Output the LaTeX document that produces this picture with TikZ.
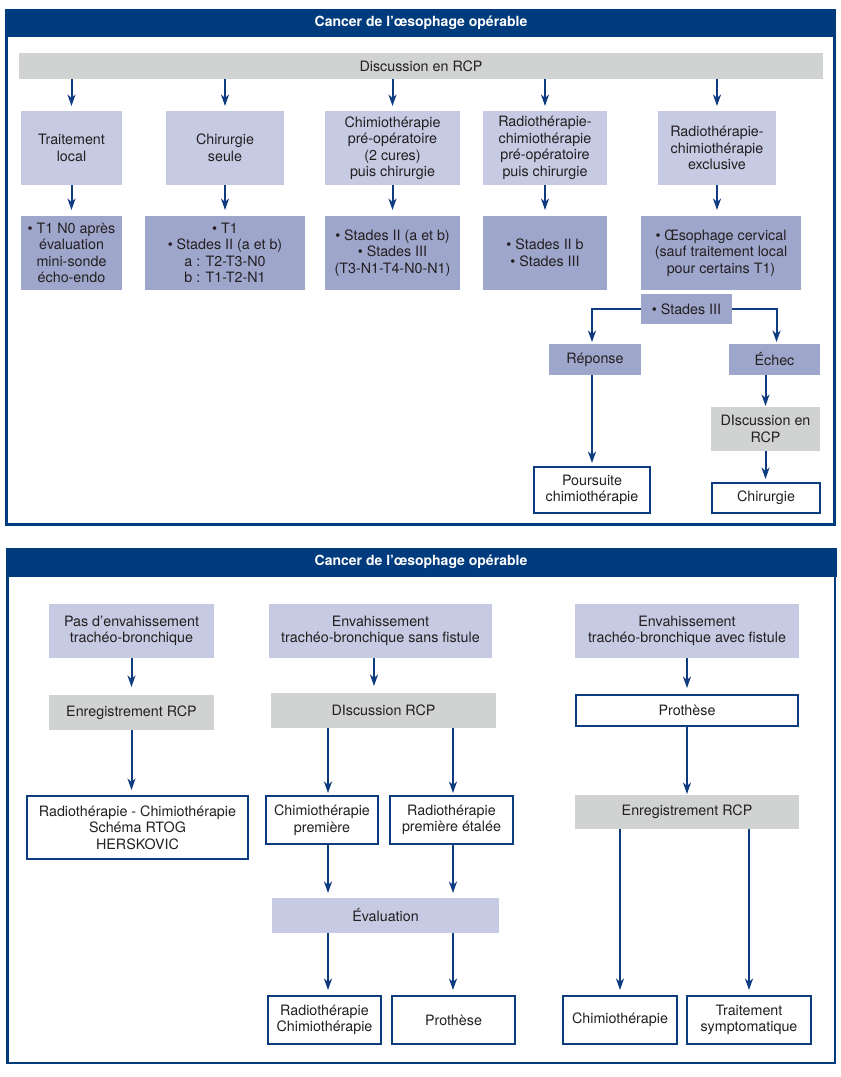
\documentclass[tikz,border=0pt]{standalone}
\usepackage{fontspec}
\setmainfont{TeX Gyre Heros}
\usetikzlibrary{arrows.meta,calc}
\definecolor{hdr}{HTML}{003B7E}
\definecolor{lav}{HTML}{C6CAE2}
\definecolor{lavd}{HTML}{9EA6CC}
\definecolor{gr}{HTML}{D1D3D3}
\definecolor{ln}{HTML}{0F3C80}
\definecolor{tx}{HTML}{231F20}
\newcommand\mybox[7]{\node[#1, minimum width={(#5)-(#3)}, minimum height={(#6)-(#4)}] (#2) at ({((#3)+(#5))/2},{((#4)+(#6))/2}) {#7};}
\begin{document}
\begin{tikzpicture}[x=1pt,y=-1pt,
 box/.style={inner sep=0pt, outer sep=0pt, align=center, font=\fontsize{14.3}{16.5}\selectfont, text=tx},
 lbox/.style={box, fill=lav},
 dbox/.style={box, fill=lavd},
 gbox/.style={box, fill=gr},
 wbox/.style={box, fill=white, draw=ln, line width=1.3pt},
 wboxthick/.style={box, fill=white, draw=ln, line width=2.4pt},
 arr/.style={draw=ln, line width=2pt, -{Stealth[length=11.5pt,width=8pt,inset=3.5pt]}, shorten >=4pt},
 hdrtext/.style={text=white, font=\bfseries\fontsize{14}{16}\selectfont},
 frame/.style={draw=hdr, line width=2.2pt}
]
\useasboundingbox (0,0) rectangle (841,1077);
\fill[white] (0,0) rectangle (841,1077);

% ---------- top panel ----------
\draw[frame] (6.5,20) rectangle (834.5,524.5);
\fill[hdr] (5,9) rectangle (836,37);
\node[hdrtext] (h1) at (421,23) {Cancer de l’œsophage opérable};

\mybox{gbox}{disc}{19}{53}{823}{79}{Discussion en RCP}
\mybox{lbox}{t1}{21}{111}{122}{185}{Traitement\\local}
\mybox{lbox}{t2}{166}{111}{284}{185}{Chirurgie\\seule}
\mybox{lbox}{t3}{325}{111}{460}{185}{Chimiothérapie\\pré-opératoire\\(2 cures)\\puis chirurgie}
\mybox{lbox}{t4}{483}{111}{607}{185}{Radiothérapie-\\chimiothérapie\\pré-opératoire\\puis chirurgie}
\mybox{lbox}{t5}{658}{111}{776}{185}{Radiothérapie-\\chimiothérapie\\exclusive}

\mybox{dbox}{s1}{21}{216}{122}{290}{• T1 N0 après\\évaluation\\mini-sonde\\écho-endo}
\mybox{dbox}{s2}{145}{216}{305}{290}{• T1\\• Stades II (a et b)\\a : T2-T3-N0\\b : T1-T2-N1}
\mybox{dbox}{s3}{325}{216}{460}{290}{• Stades II (a et b)\\• Stades III\\(T3-N1-T4-N0-N1)}
\mybox{dbox}{s4}{483}{216}{607}{290}{• Stades II b\\• Stades III}
\mybox{dbox}{s5}{641}{216}{801}{290}{• Œsophage cervical\\(sauf traitement local\\pour certains T1)}

\mybox{dbox}{st3}{641}{294}{732}{324}{• Stades III}
\mybox{dbox}{rep}{549}{344}{641}{375}{Réponse}
\mybox{dbox}{ech}{729}{344}{820}{375}{Échec}
\mybox{gbox}{disc2}{711}{407}{820}{451}{DIscussion en\\RCP}
\mybox{wbox}{pours}{534}{467}{650}{513}{Poursuite\\chimiothérapie}
\mybox{wbox}{chir}{712}{483}{820}{513}{Chirurgie}

\foreach \t in {t1,t2,t3,t4,t5}{
  \draw[arr, shorten >=5pt] (disc.south -| \t.north) -- (\t.north);
}
\foreach \t/\s in {t1/s1,t2/s2,t3/s3,t4/s4,t5/s5}{
  \draw[arr, shorten >=6pt] (\t.south) -- (\t.south |- \s.north);
}
\draw[arr, shorten >=2pt] (st3.west) -| (pours.north |- rep.north);
\draw[arr, shorten >=2pt] (st3.east) -| ([xshift=2pt]ech.north);
\draw[arr, shorten >=4pt] (rep.south -| pours.north) -- (pours.north);
\draw[arr, shorten >=1pt] (ech.south -| disc2.north) -- (disc2.north);
\draw[arr, shorten >=4pt] (disc2.south) -- (disc2.south |- chir.north);

% ---------- bottom panel ----------
\draw[frame] (7.5,560) rectangle (835,1063);
\fill[hdr] (6,548) rectangle (837,577);
\node[hdrtext] (h2) at (421,562) {Cancer de l’œsophage opérable};

\mybox{lbox}{b1}{49}{604}{214}{658}{Pas d’envahissement\\trachéo-bronchique}
\mybox{lbox}{b2}{269}{604}{492}{658}{Envahissement\\trachéo-bronchique sans fistule}
\mybox{lbox}{b3}{575}{604}{799}{658}{Envahissement\\trachéo-bronchique avec fistule}
\mybox{gbox}{e1}{49}{695}{214}{730}{Enregistrement RCP}
\mybox{gbox}{d3}{271}{693}{496}{728}{DIscussion RCP}
\mybox{wboxthick}{p1}{576}{695}{798}{726}{Prothèse}
\mybox{wbox}{rc}{27}{796}{248}{859}{Radiothérapie - Chimiothérapie\\Schéma RTOG\\HERSKOVIC}
\mybox{wbox}{cp}{266}{796}{378}{844}{Chimiothérapie\\première}
\mybox{wbox}{rp}{390}{796}{513}{844}{Radiothérapie\\première étalée}
\mybox{gbox}{e2}{575}{795}{799}{829}{Enregistrement RCP}
\mybox{lbox}{ev}{272}{898}{499}{933}{Évaluation}
\mybox{wbox}{rc2}{268}{996}{381}{1044}{Radiothérapie\\Chimiothérapie}
\mybox{wbox}{pr2}{392}{996}{515}{1044}{Prothèse}
\mybox{wbox}{ch2}{563}{996}{677}{1044}{Chimiothérapie}
\mybox{wbox}{ts}{687}{996}{811}{1044}{Traitement\\symptomatique}

\coordinate (cS) at (374,0);
\coordinate (cA) at (328,0);
\coordinate (cB) at (453,0);

\draw[arr, shorten >=8pt] (b1.south) -- (b1.south |- e1.north);
\draw[arr, shorten >=6pt] (e1.south) -- (e1.south |- rc.north);
\draw[arr, shorten >=7pt] (b2.south -| cS) -- (d3.north -| cS);
\draw[arr, shorten >=3pt] (d3.south -| cA) -- (cp.north -| cA);
\draw[arr, shorten >=3pt] (d3.south -| cB) -- (rp.north -| cB);
\draw[arr, shorten >=5pt] (cp.south -| cA) -- (ev.north -| cA);
\draw[arr, shorten >=5pt] (rp.south -| cB) -- (ev.north -| cB);
\draw[arr, shorten >=6pt] (ev.south -| cA) -- (rc2.north -| cA);
\draw[arr, shorten >=6pt] (ev.south -| cB) -- (pr2.north -| cB);
\draw[arr, shorten >=7pt] (b3.south) -- (b3.south |- p1.north);
\draw[arr, shorten >=1pt] (p1.south) -- (p1.south |- e2.north);
\draw[arr, shorten >=6pt] (e2.south -| ch2.north) -- (ch2.north);
\draw[arr, shorten >=6pt] (e2.south -| ts.north) -- (ts.north);
\end{tikzpicture}
\end{document}
